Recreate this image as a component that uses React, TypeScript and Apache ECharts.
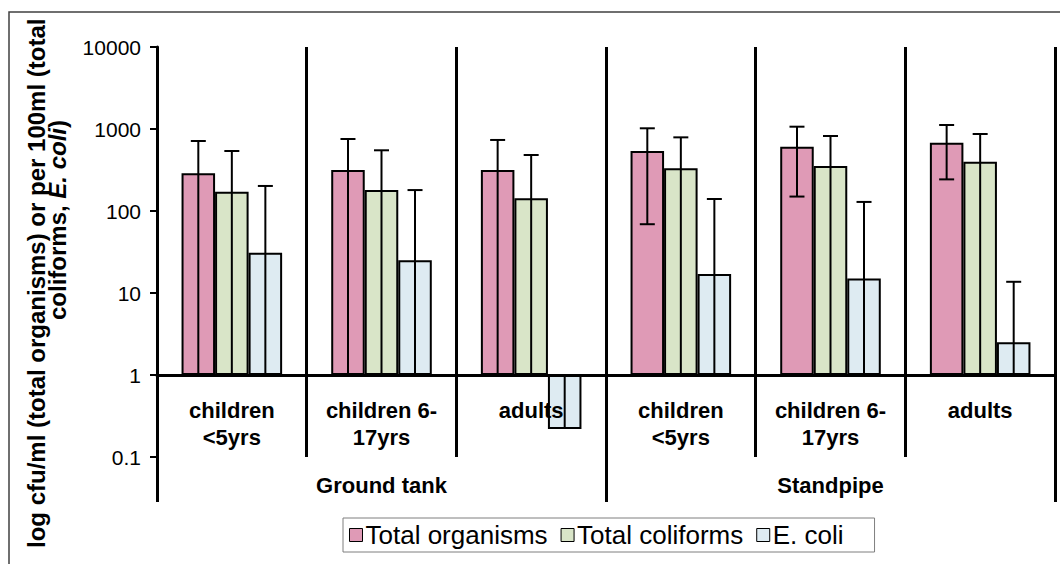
import React, { useEffect, useRef } from 'react';
import * as echarts from 'echarts';

const subCategories = ['children\n<5yrs', 'children 6-\n17yrs', 'adults', 'children\n<5yrs', 'children 6-\n17yrs', 'adults'];
const groups = ['Ground tank', 'Standpipe'];
const seriesNames = ['Total organisms', 'Total coliforms', 'E. coli'];
const yTickValues = [0.1, 1, 10, 100, 1000, 10000];

const totalOrganisms = [288, 316, 316, 540, 608, 681];
const totalOrganismsHigh = [714, 755, 735, 1020, 1067, 1119];
const totalOrganismsLow: (number | null)[] = [null, null, null, 69, 150, 243];

const totalColiforms = [172, 180, 143, 332, 354, 399];
const totalColiformsHigh = [539, 550, 482, 791, 822, 869];
const totalColiformsLow: (number | null)[] = [null, null, null, null, null, null];

const eColi = [31, 25, 0.22, 17, 15, 2.5];
const eColiHigh: (number | null)[] = [202, 180, null, 140, 129, 13.7];
const eColiLow: (number | null)[] = [null, null, null, null, null, null];

const colors = ['#DF9AB6', '#D9E5C8', '#DEEBF2'];
const FONT = 'Liberation Sans, Arial, sans-serif';
const BAR_FRAC = 0.224;

function errorSeries(k: number, means: number[], highs: (number | null)[], lows: (number | null)[]) {
  return {
    type: 'custom',
    xAxisIndex: 0,
    yAxisIndex: 0,
    z: 5,
    silent: true,
    encode: { x: 0, y: 1 },
    data: means.map((m, i) => [
      i,
      m,
      lows[i] == null ? 1 : lows[i],
      highs[i] == null ? m : highs[i],
      lows[i] == null ? 0 : 1,
      highs[i] == null ? 0 : 1,
    ]),
    renderItem: (params: any, api: any) => {
      const i = api.value(0);
      const band = api.coord([1, 1])[0] - api.coord([0, 1])[0];
      const bw = band * BAR_FRAC;
      const cx = api.coord([i, 1])[0] + (k - 1) * bw;
      const yLow = api.coord([i, api.value(2)])[1];
      const yHigh = api.coord([i, api.value(3)])[1];
      const cap = 7.5;
      const st = { stroke: '#000', lineWidth: 2 };
      const children: any[] = [
        { type: 'line', shape: { x1: cx, y1: yLow, x2: cx, y2: yHigh }, style: st },
      ];
      if (api.value(4)) children.push({ type: 'line', shape: { x1: cx - cap, y1: yLow, x2: cx + cap, y2: yLow }, style: st });
      if (api.value(5)) children.push({ type: 'line', shape: { x1: cx - cap, y1: yHigh, x2: cx + cap, y2: yHigh }, style: st });
      return { type: 'group', children };
    },
  };
}

export default function App() {
  const ref = useRef<HTMLDivElement>(null);
  useEffect(() => {
    if (!ref.current) return;
    const chart = echarts.init(ref.current, null, { renderer: 'svg' });
    const barData = [totalOrganisms, totalColiforms, eColi];
    const option: any = {
      animation: false,
      backgroundColor: '#fff',
      textStyle: { fontFamily: FONT },
      grid: { left: 157, right: 5, top: 47, bottom: 107, containLabel: false },
      legend: {
        data: seriesNames,
        left: 343,
        top: 518,
        orient: 'horizontal',
        padding: [4, 31, 4, 6],
        itemGap: 13,
        itemWidth: 13,
        itemHeight: 13,
        icon: 'rect',
        borderColor: '#7f7f7f',
        borderWidth: 1,
        itemStyle: { borderColor: '#000', borderWidth: 1 },
        textStyle: { fontSize: 26, color: '#000', fontFamily: FONT, padding: [0, 0, 0, -2] },
        selectedMode: false,
      },
      xAxis: [
        {
          type: 'category',
          data: subCategories,
          position: 'bottom',
          offset: -82,
          z: 10,
          axisLine: { show: true, onZero: false, lineStyle: { color: '#000', width: 3 } },
          axisTick: { show: false },
          splitLine: { show: true, interval: 0, lineStyle: { color: '#000', width: 3 } },
          axisLabel: {
            interval: 0,
            margin: 22,
            fontSize: 22,
            fontWeight: 'bold',
            lineHeight: 27,
            color: '#000',
            fontFamily: FONT,
          },
        },
        {
          type: 'category',
          data: groups,
          position: 'bottom',
          offset: 0,
          axisLine: { show: false, onZero: false },
          axisTick: { show: true, interval: 0, length: 45, lineStyle: { color: '#000', width: 3 } },
          splitLine: { show: false },
          axisLabel: {
            interval: 0,
            margin: 15,
            fontSize: 22,
            fontWeight: 'bold',
            lineHeight: 27,
            color: '#000',
            fontFamily: FONT,
          },
        },
      ],
      yAxis: {
        type: 'log',
        logBase: 10,
        min: yTickValues[0],
        max: yTickValues[yTickValues.length - 1],
        splitNumber: 5,
        axisLine: { show: true, onZero: false, lineStyle: { color: '#000', width: 3 } },
        axisTick: { show: true, length: 7, lineStyle: { color: '#000', width: 2 } },
        splitLine: { show: false },
        minorTick: { show: false },
        axisLabel: {
          margin: 16,
          fontSize: 21,
          color: '#000',
          fontFamily: FONT,
          formatter: (v: number) => String(Number(v.toPrecision(6))),
        },
      },
      graphic: [
        {
          type: 'rect',
          shape: { x: 9, y: 12, width: 1100, height: 600 },
          style: { fill: 'none', stroke: '#404040', lineWidth: 1.5 },
          silent: true,
        },
        {
          type: 'text',
          x: 36,
          y: 548,
          rotation: Math.PI / 2,
          style: {
            text: 'log cfu/ml (total organisms) or per 100ml (total',
            font: `bold 24px ${FONT}`,
            fill: '#000',
            align: 'left',
            verticalAlign: 'middle',
          },
          silent: true,
        },
        {
          type: 'text',
          x: 57,
          y: 220,
          rotation: Math.PI / 2,
          style: {
            text: '{b|coliforms, }{i|E. coli}{b|)}',
            align: 'center',
            verticalAlign: 'middle',
            rich: {
              b: { fontWeight: 'bold', fontSize: 24, fontFamily: FONT, fill: '#000' },
              i: { fontWeight: 'bold', fontStyle: 'italic', fontSize: 24, fontFamily: FONT, fill: '#000' },
            },
          },
          silent: true,
        },
      ],
      series: [
        ...seriesNames.map((name, k) => ({
          name,
          type: 'bar',
          xAxisIndex: 0,
          yAxisIndex: 0,
          barWidth: (BAR_FRAC * 100).toFixed(1) + '%',
          barGap: '0%',
          z: 3,
          itemStyle: { color: colors[k], borderColor: '#000', borderWidth: 2 },
          data: barData[k],
        })),
        errorSeries(0, totalOrganisms, totalOrganismsHigh, totalOrganismsLow),
        errorSeries(1, totalColiforms, totalColiformsHigh, totalColiformsLow),
        errorSeries(2, eColi, eColiHigh, eColiLow),
      ],
    };
    chart.setOption(option);
    return () => chart.dispose();
  }, []);
  return (
    <div
      ref={ref}
      style={{ position: 'absolute', left: 0, top: 0, width: 1060, height: 564, background: '#fff' }}
    />
  );
}
